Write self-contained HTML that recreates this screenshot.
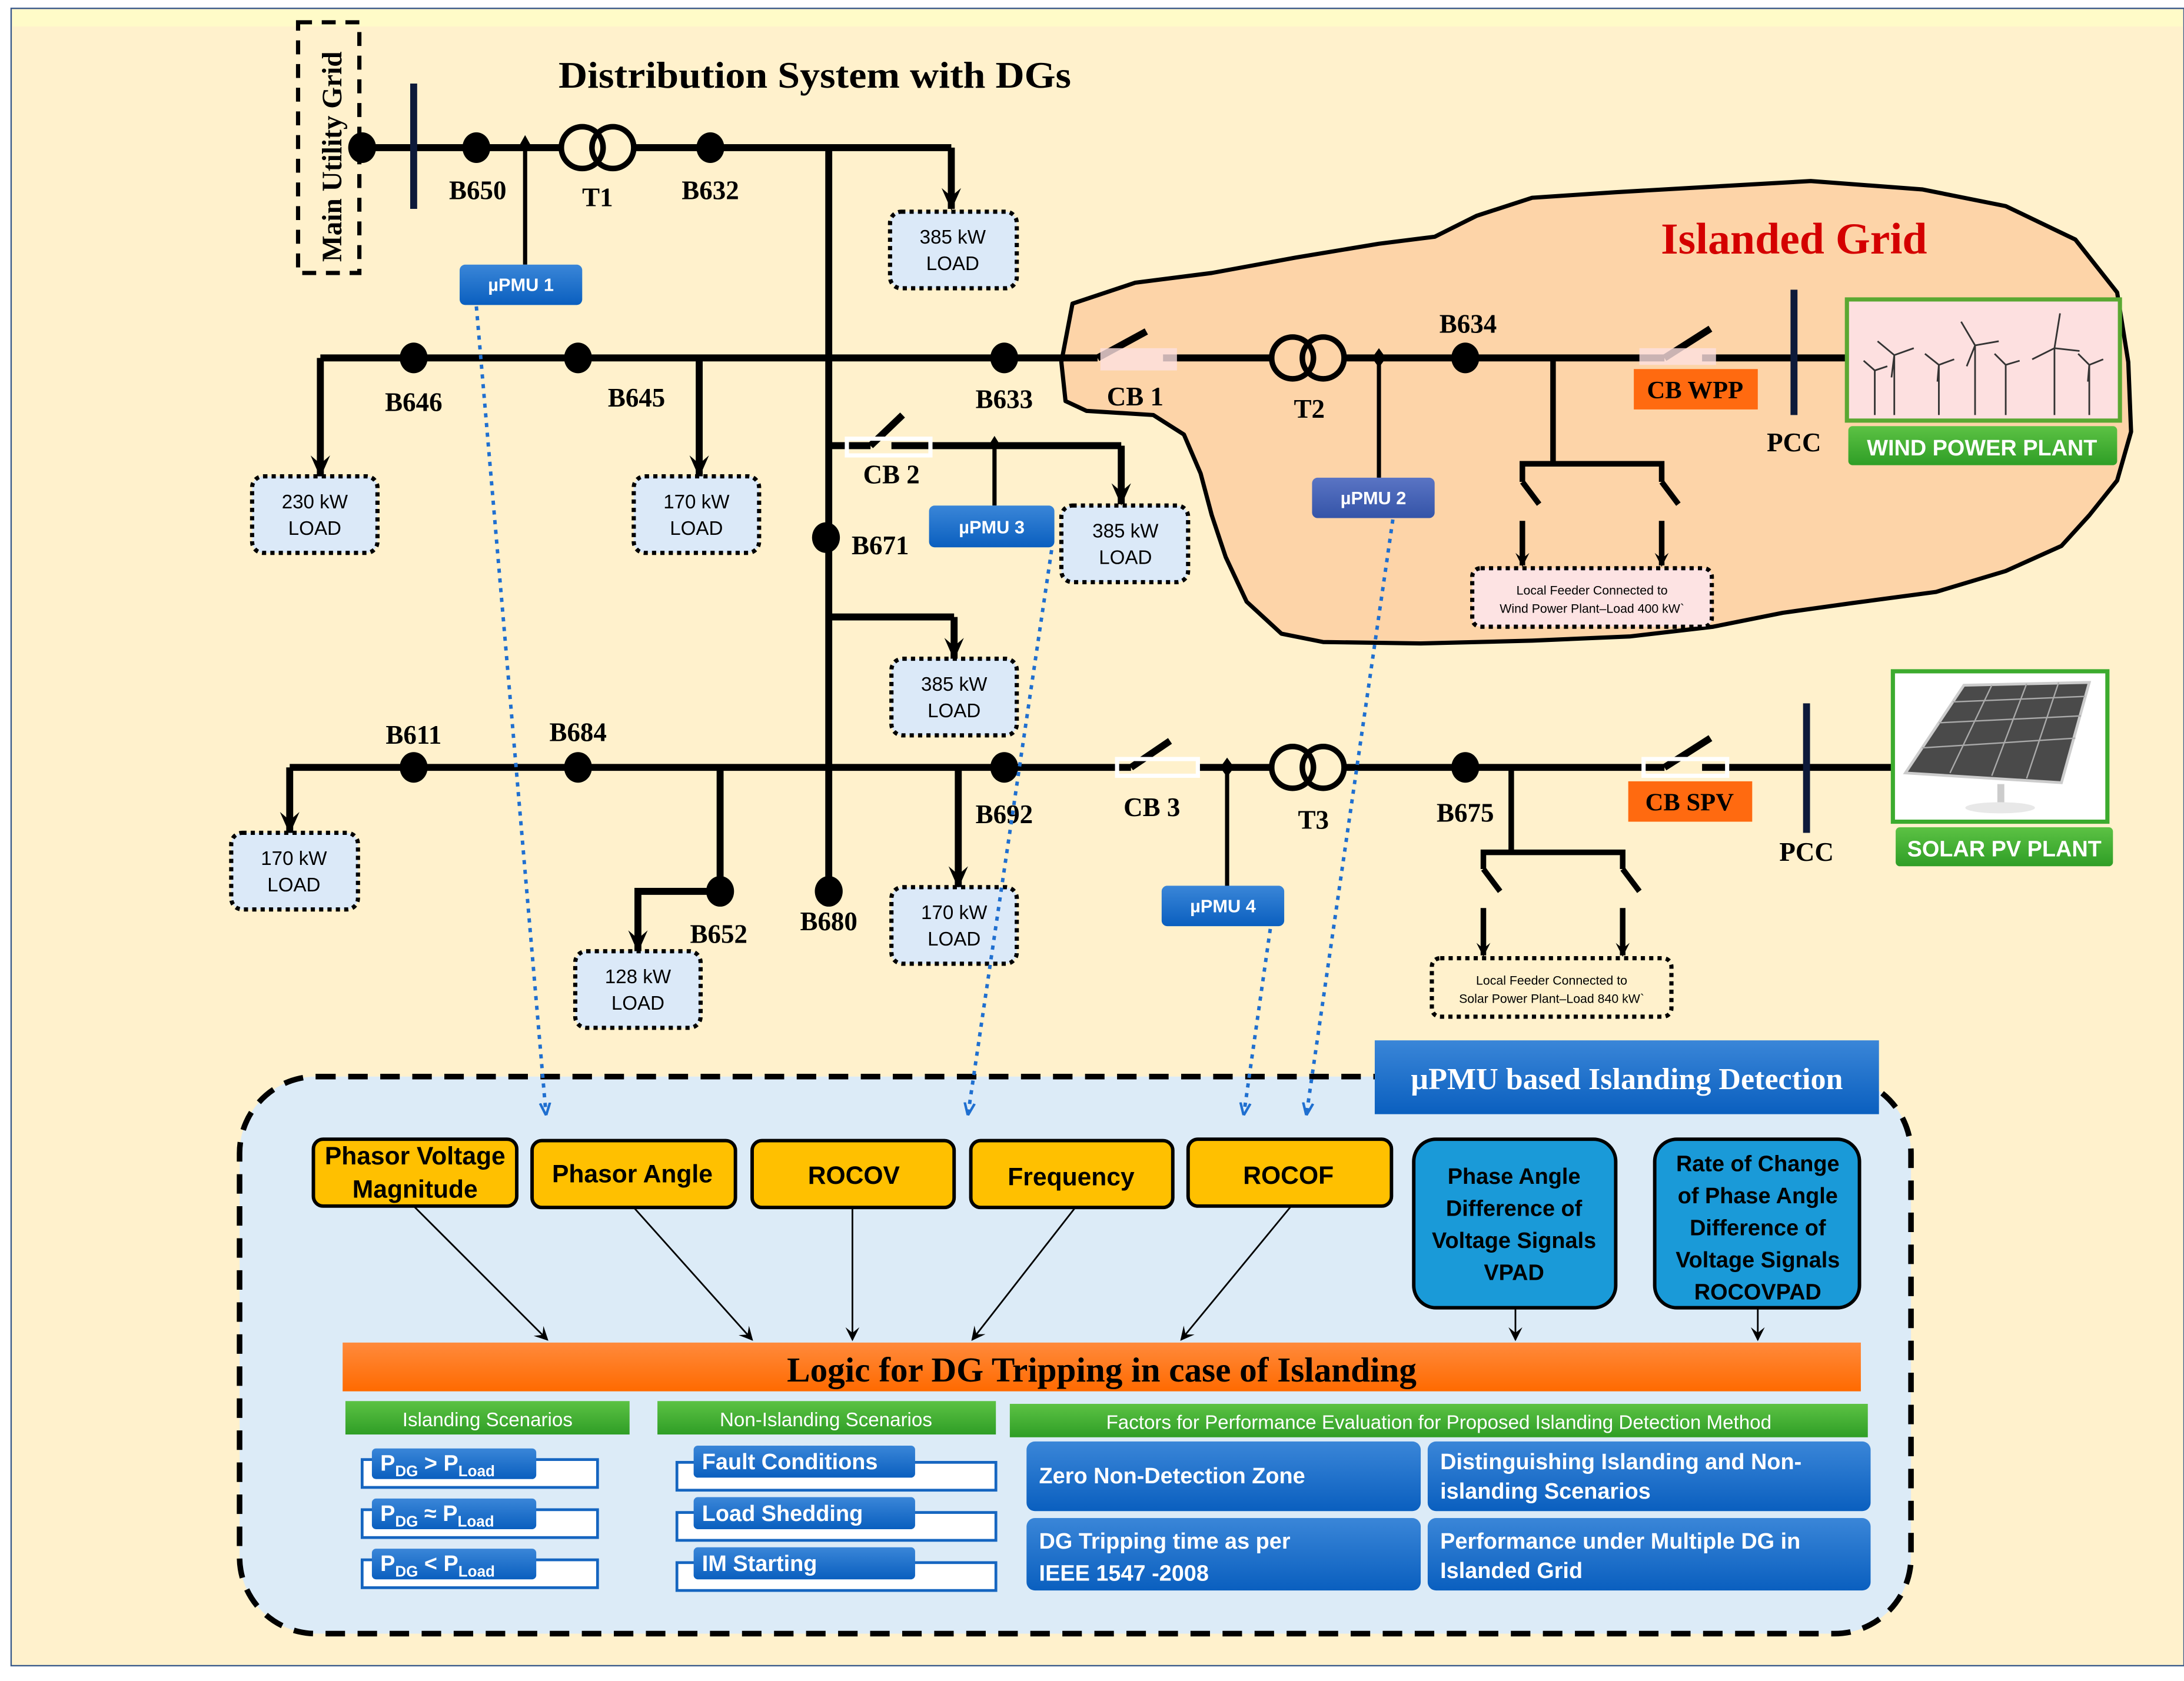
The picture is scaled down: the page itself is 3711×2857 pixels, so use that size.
<!DOCTYPE html>
<html><head><meta charset="utf-8"><style>
html,body{margin:0;padding:0;background:#fff}
svg{display:block}
text{font-family:"Liberation Sans",sans-serif}
.s,.s text{font-family:"Liberation Serif",serif;font-weight:bold}
</style></head><body>
<svg width="3711" height="2857" viewBox="0 0 1568 1207" preserveAspectRatio="none" xmlns="http://www.w3.org/2000/svg">
<defs>
<marker id="ab" viewBox="0 0 10 10" refX="9" refY="5" markerWidth="10" markerHeight="10" orient="auto" markerUnits="userSpaceOnUse"><path d="M0,0 L10,5 L0,10 L4,5 Z" fill="#000"/></marker>
<marker id="big" viewBox="0 0 16 14" refX="15" refY="7" markerWidth="16" markerHeight="14" orient="auto" markerUnits="userSpaceOnUse"><path d="M0,0 L16,7 L0,14 L6,7 Z" fill="#000"/></marker>
<marker id="bl" viewBox="0 0 10 10" refX="9" refY="5" markerWidth="9" markerHeight="9" orient="auto" markerUnits="userSpaceOnUse"><path d="M0,1 L10,5 L0,9" fill="none" stroke="#1f6fd0" stroke-width="2"/></marker>
<linearGradient id="gb" x1="0" y1="0" x2="0" y2="1"><stop offset="0" stop-color="#3a86d8"/><stop offset="1" stop-color="#0a5fbf"/></linearGradient>
<linearGradient id="gp" x1="0" y1="0" x2="0" y2="1"><stop offset="0" stop-color="#5a74c4"/><stop offset="1" stop-color="#3454a8"/></linearGradient>
<linearGradient id="go" x1="0" y1="0" x2="0" y2="1"><stop offset="0" stop-color="#ff8a3c"/><stop offset="1" stop-color="#ff6a00"/></linearGradient>
<linearGradient id="gg" x1="0" y1="0" x2="0" y2="1"><stop offset="0" stop-color="#5cc244"/><stop offset="1" stop-color="#2f9e26"/></linearGradient>
</defs>
<rect x="8" y="6" width="1560" height="1190" fill="#fff1cc" stroke="#3a5a8a" stroke-width="1"/>
<rect x="9" y="7" width="1558" height="12" fill="#fffbc8"/>

<!-- island -->
<path d="M770,218 L815,203 L870,196 L930,185 L990,175 L1030,170 L1060,155 L1100,142 L1160,138 L1230,134 L1300,130 L1380,136 L1440,148 L1490,172 L1520,210 L1528,260 L1530,310 L1520,345 L1500,370 L1480,392 L1440,410 L1390,425 L1330,433 L1280,440 L1230,450 L1170,457 L1100,460 L1020,462 L950,461 L920,455 L895,432 L880,400 L870,370 L862,340 L850,312 L828,298 L780,295 L765,288 L762,260 Z" fill="#fdd4a8" stroke="#000" stroke-width="3" stroke-linejoin="round"/>
<text x="1288" y="182" text-anchor="middle" class="s" font-size="32" fill="#d40000">Islanded Grid</text>

<text x="585" y="63" text-anchor="middle" class="s" font-size="27" textLength="368" lengthAdjust="spacingAndGlyphs">Distribution System with DGs</text>

<!-- main utility grid -->
<rect x="214" y="16" width="44" height="180" fill="none" stroke="#000" stroke-width="3" stroke-dasharray="10,7"/>
<text transform="translate(245,188) rotate(-90)" class="s" font-size="20">Main Utility Grid</text>

<g stroke="#000" stroke-width="5" fill="none">
<line x1="260" y1="106" x2="402" y2="106"/>
<line x1="456" y1="106" x2="683" y2="106"/>
<line x1="683" y1="106" x2="683" y2="150" marker-end="url(#big)"/>
<line x1="377" y1="106" x2="377" y2="190" stroke-width="3"/>
<line x1="595" y1="106" x2="595" y2="640"/>
<line x1="230" y1="257" x2="788" y2="257"/>
<line x1="230" y1="257" x2="230" y2="342" marker-end="url(#big)"/>
<line x1="502" y1="257" x2="502" y2="342" marker-end="url(#big)"/>
<line x1="835" y1="257" x2="912" y2="257"/>
<line x1="966" y1="257" x2="1195" y2="257"/>
<line x1="1222" y1="257" x2="1325" y2="257"/>
<line x1="990" y1="257" x2="990" y2="343" stroke-width="3"/>
<line x1="1115" y1="257" x2="1115" y2="333" stroke-width="4"/>
<path d="M1093,346 L1093,333 L1193,333 L1193,346" stroke-width="4"/>
<line x1="1093" y1="374" x2="1093" y2="406" stroke-width="4" marker-end="url(#ab)"/>
<line x1="1193" y1="374" x2="1193" y2="406" stroke-width="4" marker-end="url(#ab)"/>
<line x1="1093" y1="346" x2="1105" y2="362" stroke-width="4"/>
<line x1="1193" y1="346" x2="1205" y2="362" stroke-width="4"/>
<line x1="595" y1="320" x2="625" y2="320"/>
<line x1="640" y1="320" x2="805" y2="320"/>
<line x1="805" y1="320" x2="805" y2="362" marker-end="url(#big)"/>
<line x1="714" y1="320" x2="714" y2="363" stroke-width="3"/>
<line x1="595" y1="443" x2="685" y2="443"/>
<line x1="685" y1="443" x2="685" y2="473" marker-end="url(#big)"/>
<line x1="208" y1="551" x2="812" y2="551"/>
<line x1="208" y1="551" x2="208" y2="598" marker-end="url(#big)"/>
<line x1="517" y1="551" x2="517" y2="640"/>
<path d="M517,640 L458,640 L458,683" marker-end="url(#big)"/>
<line x1="688" y1="551" x2="688" y2="637" marker-end="url(#big)"/>
<line x1="860" y1="551" x2="912" y2="551"/>
<line x1="966" y1="551" x2="1195" y2="551"/>
<line x1="1222" y1="551" x2="1365" y2="551"/>
<line x1="881" y1="551" x2="881" y2="637" stroke-width="3"/>
<line x1="1085" y1="551" x2="1085" y2="612" stroke-width="4"/>
<path d="M1065,624 L1065,612 L1165,612 L1165,624" stroke-width="4"/>
<line x1="1065" y1="652" x2="1065" y2="686" stroke-width="4" marker-end="url(#ab)"/>
<line x1="1165" y1="652" x2="1165" y2="686" stroke-width="4" marker-end="url(#ab)"/>
<line x1="1065" y1="624" x2="1077" y2="640" stroke-width="4"/>
<line x1="1165" y1="624" x2="1177" y2="640" stroke-width="4"/>
<line x1="788" y1="257" x2="823" y2="238"/>
<line x1="1195" y1="257" x2="1228" y2="236"/>
<line x1="625" y1="320" x2="648" y2="298"/>
<line x1="812" y1="551" x2="840" y2="532"/>
<line x1="1195" y1="551" x2="1228" y2="530"/>
</g>
<rect x="790" y="250" width="55" height="16" fill="#fde0e0" opacity="0.8"/>
<rect x="1177" y="250" width="55" height="12" fill="#fde0e0" opacity="0.8"/>
<rect x="608" y="315" width="60" height="12" fill="none" stroke="#fff" stroke-width="3"/>
<rect x="802" y="545" width="58" height="12" fill="none" stroke="#fff" stroke-width="3"/>
<rect x="1180" y="545" width="60" height="12" fill="none" stroke="#fff" stroke-width="3"/>
<line x1="297" y1="60" x2="297" y2="150" stroke="#0d1a3a" stroke-width="5"/>
<line x1="1288" y1="208" x2="1288" y2="298" stroke="#0d1a3a" stroke-width="5"/>
<line x1="1297" y1="505" x2="1297" y2="598" stroke="#0d1a3a" stroke-width="5"/>
<g fill="none" stroke="#000" stroke-width="4">
<circle cx="418" cy="106" r="15"/><circle cx="440" cy="106" r="15"/>
<circle cx="928" cy="257" r="15"/><circle cx="950" cy="257" r="15"/>
<circle cx="928" cy="551" r="15"/><circle cx="950" cy="551" r="15"/>
</g>
<g fill="#000">
<ellipse cx="260" cy="106" rx="10" ry="11"/>
<ellipse cx="342" cy="106" rx="10" ry="11"/>
<ellipse cx="510" cy="106" rx="10" ry="11"/>
<ellipse cx="297" cy="257" rx="10" ry="11"/>
<ellipse cx="415" cy="257" rx="10" ry="11"/>
<ellipse cx="721" cy="257" rx="10" ry="11"/>
<ellipse cx="1052" cy="257" rx="10" ry="11"/>
<ellipse cx="593" cy="386" rx="10" ry="11"/>
<ellipse cx="297" cy="551" rx="10" ry="11"/>
<ellipse cx="415" cy="551" rx="10" ry="11"/>
<ellipse cx="721" cy="551" rx="10" ry="11"/>
<ellipse cx="1052" cy="551" rx="10" ry="11"/>
<ellipse cx="517" cy="640" rx="10" ry="11"/>
<ellipse cx="595" cy="640" rx="10" ry="11"/>
<path d="M377,97 l5,9 l-10,0 Z M714,313 l5,8 l-10,0 Z M990,250 l5,7 l-5,7 l-5,-7Z M881,544 l5,7 l-5,7 l-5,-7Z"/>
</g>
<g class="s" font-size="19" text-anchor="middle">
<text x="343" y="143">B650</text><text x="429" y="148">T1</text><text x="510" y="143">B632</text>
<text x="297" y="295">B646</text><text x="457" y="292">B645</text><text x="721" y="293">B633</text>
<text x="815" y="291">CB 1</text><text x="940" y="300">T2</text><text x="1054" y="239">B634</text>
<text x="1288" y="324">PCC</text><text x="640" y="347">CB 2</text><text x="632" y="398">B671</text>
<text x="297" y="534">B611</text><text x="415" y="532">B684</text><text x="721" y="591">B692</text>
<text x="827" y="586">CB 3</text><text x="943" y="595">T3</text><text x="1052" y="590">B675</text>
<text x="1297" y="618">PCC</text><text x="516" y="677">B652</text><text x="595" y="668">B680</text>
</g>
<g fill="#dbe9f8" stroke="#000" stroke-width="3" stroke-dasharray="3,3">
<rect x="639" y="152" width="91" height="55" rx="8"/>
<rect x="181" y="342" width="90" height="55" rx="8"/>
<rect x="455" y="342" width="90" height="55" rx="8"/>
<rect x="762" y="363" width="91" height="55" rx="8"/>
<rect x="640" y="473" width="90" height="55" rx="8"/>
<rect x="166" y="598" width="91" height="55" rx="8"/>
<rect x="640" y="637" width="90" height="55" rx="8"/>
<rect x="413" y="683" width="90" height="55" rx="8"/>
<rect x="1057" y="408" width="172" height="42" rx="6" fill="#fde3e3"/>
<rect x="1028" y="688" width="172" height="42" rx="6" fill="#fff1cc"/>
</g>
<g font-size="14" text-anchor="middle">
<text x="684" y="175">385 kW</text><text x="684" y="194">LOAD</text>
<text x="226" y="365">230 kW</text><text x="226" y="384">LOAD</text>
<text x="500" y="365">170 kW</text><text x="500" y="384">LOAD</text>
<text x="808" y="386">385 kW</text><text x="808" y="405">LOAD</text>
<text x="685" y="496">385 kW</text><text x="685" y="515">LOAD</text>
<text x="211" y="621">170 kW</text><text x="211" y="640">LOAD</text>
<text x="685" y="660">170 kW</text><text x="685" y="679">LOAD</text>
<text x="458" y="706">128 kW</text><text x="458" y="725">LOAD</text>
<text x="1143" y="427" font-size="9">Local Feeder Connected to</text>
<text x="1143" y="440" font-size="9">Wind Power Plant–Load 400 kW`</text>
<text x="1114" y="707" font-size="9">Local Feeder Connected to</text>
<text x="1114" y="720" font-size="9">Solar Power Plant–Load 840 kW`</text>
</g>
<rect x="330" y="190" width="88" height="29" rx="4" fill="url(#gb)"/>
<rect x="667" y="363" width="90" height="30" rx="4" fill="url(#gb)"/>
<rect x="942" y="343" width="88" height="29" rx="4" fill="url(#gp)"/>
<rect x="834" y="636" width="88" height="29" rx="4" fill="url(#gb)"/>
<g fill="#fff" font-size="13" font-weight="bold" text-anchor="middle">
<text x="374" y="209">µPMU 1</text><text x="712" y="383">µPMU 3</text><text x="986" y="362">µPMU 2</text><text x="878" y="655">µPMU 4</text>
</g>
<rect x="1173" y="265" width="89" height="29" fill="#ff6a10"/>
<text x="1217" y="286" text-anchor="middle" class="s" font-size="18">CB WPP</text>
<rect x="1169" y="561" width="89" height="29" fill="#ff6a10"/>
<text x="1213" y="582" text-anchor="middle" class="s" font-size="18">CB SPV</text>
<rect x="1326" y="215" width="196" height="87" fill="#fde0e0" stroke="#5aa832" stroke-width="3"/>
<g stroke="#333" stroke-width="1.2" fill="none">
<path d="M1360,298 V255 M1360,255 l-12,-10 M1360,255 l14,-5 M1360,255 l-2,16"/>
<path d="M1392,298 V262 M1392,262 l-10,-8 M1392,262 l11,-4 M1392,262 l-1,12"/>
<path d="M1418,298 V248 M1418,248 l-10,-17 M1418,248 l17,-3 M1418,248 l-6,15"/>
<path d="M1440,298 V262 M1440,262 l-8,-8 M1440,262 l10,-3"/>
<path d="M1475,298 V250 M1475,250 l4,-25 M1475,250 l18,2 M1475,250 l-16,8"/>
<path d="M1500,298 V262 M1500,262 l-8,-8 M1500,262 l10,-4 M1500,262 l-1,12"/>
<path d="M1346,298 V266 M1346,266 l-8,-7 M1346,266 l9,-3"/>
</g>
<rect x="1327" y="306" width="193" height="28" rx="3" fill="url(#gg)"/>
<text x="1423" y="327" text-anchor="middle" fill="#fff" font-size="16" font-weight="bold">WIND POWER PLANT</text>
<rect x="1359" y="482" width="154" height="108" fill="#fff" stroke="#3cab2e" stroke-width="3"/>
<path d="M1368,555 L1410,492 L1500,490 L1480,562 Z" fill="#4a4a4a" stroke="#ccc" stroke-width="2"/>
<g stroke="#aaa" stroke-width="1"><path d="M1380,537 L1490,530 M1392,519 L1494,514 M1402,504 L1497,500 M1400,555 L1430,492 M1430,557 L1455,491 M1455,559 L1478,490"/></g>
<rect x="1434" y="563" width="5" height="14" fill="#ccc"/>
<ellipse cx="1436" cy="580" rx="25" ry="4" fill="#e8e8e8"/>
<rect x="1361" y="594" width="156" height="28" rx="3" fill="url(#gg)"/>
<text x="1439" y="615" text-anchor="middle" fill="#fff" font-size="16" font-weight="bold">SOLAR PV PLANT</text>

<rect x="172" y="773" width="1200" height="400" rx="55" fill="#dcebf7" stroke="#000" stroke-width="4" stroke-dasharray="14,9"/>
<rect x="987" y="747" width="362" height="53" fill="url(#gb)"/>
<text x="1168" y="782" text-anchor="middle" class="s" font-size="22" fill="#fff">µPMU based Islanding Detection</text>
<g stroke="#1f6fd0" stroke-width="2.5" stroke-dasharray="3,4" fill="none">
<line x1="342" y1="220" x2="392" y2="800" marker-end="url(#bl)"/>
<line x1="755" y1="395" x2="695" y2="800" marker-end="url(#bl)"/>
<line x1="912" y1="667" x2="893" y2="800" marker-end="url(#bl)"/>
<line x1="1000" y1="373" x2="938" y2="800" marker-end="url(#bl)"/>
</g>
<g fill="#ffc000" stroke="#000" stroke-width="2.5">
<rect x="225" y="818" width="146" height="48" rx="7"/>
<rect x="382" y="819" width="146" height="48" rx="7"/>
<rect x="540" y="819" width="145" height="48" rx="7"/>
<rect x="697" y="819" width="145" height="48" rx="7"/>
<rect x="853" y="818" width="146" height="48" rx="7"/>
</g>
<g fill="#1a9ad8" stroke="#000" stroke-width="2.5">
<rect x="1015" y="818" width="145" height="121" rx="16"/>
<rect x="1188" y="818" width="147" height="121" rx="16"/>
</g>
<g font-size="18" font-weight="bold" text-anchor="middle">
<text x="298" y="836">Phasor Voltage</text><text x="298" y="860">Magnitude</text>
<text x="454" y="849">Phasor Angle</text>
<text x="613" y="850">ROCOV</text>
<text x="769" y="851">Frequency</text>
<text x="925" y="850">ROCOF</text>
<g font-size="16"><text x="1087" y="850">Phase Angle</text><text x="1087" y="873">Difference of</text><text x="1087" y="896">Voltage Signals</text><text x="1087" y="919">VPAD</text>
<text x="1262" y="841">Rate of Change</text><text x="1262" y="864">of Phase Angle</text><text x="1262" y="887">Difference of</text><text x="1262" y="910">Voltage Signals</text><text x="1262" y="933">ROCOVPAD</text></g>
</g>
<g stroke="#000" stroke-width="1.2">
<line x1="297" y1="866" x2="393" y2="962" marker-end="url(#ab)"/>
<line x1="455" y1="867" x2="540" y2="962" marker-end="url(#ab)"/>
<line x1="612" y1="867" x2="612" y2="962" marker-end="url(#ab)"/>
<line x1="772" y1="867" x2="698" y2="962" marker-end="url(#ab)"/>
<line x1="927" y1="866" x2="848" y2="962" marker-end="url(#ab)"/>
<line x1="1088" y1="939" x2="1088" y2="962" marker-end="url(#ab)"/>
<line x1="1262" y1="939" x2="1262" y2="962" marker-end="url(#ab)"/>
</g>
<rect x="246" y="964" width="1090" height="35" fill="url(#go)"/>
<text x="791" y="992" text-anchor="middle" class="s" font-size="25">Logic for DG Tripping in case of Islanding</text>
<rect x="248" y="1006" width="204" height="24" fill="url(#gg)"/>
<rect x="472" y="1006" width="243" height="24" fill="url(#gg)"/>
<rect x="725" y="1008" width="616" height="24" fill="url(#gg)"/>
<g fill="#fff" font-size="14" text-anchor="middle">
<text x="350" y="1024">Islanding Scenarios</text>
<text x="593" y="1024">Non-Islanding Scenarios</text>
<text x="1033" y="1026">Factors for Performance Evaluation for Proposed Islanding Detection Method</text>
</g>
<g fill="#fff" stroke="#1565c0" stroke-width="2">
<rect x="260" y="1048" width="169" height="20"/><rect x="260" y="1084" width="169" height="20"/><rect x="260" y="1120" width="169" height="20"/>
<rect x="486" y="1050" width="229" height="20"/><rect x="486" y="1086" width="229" height="20"/><rect x="486" y="1122" width="229" height="20"/>
</g>
<g fill="url(#gb)">
<rect x="267" y="1040" width="118" height="22" rx="3"/><rect x="267" y="1076" width="118" height="22" rx="3"/><rect x="267" y="1112" width="118" height="22" rx="3"/>
<rect x="498" y="1038" width="159" height="23" rx="3"/><rect x="498" y="1075" width="159" height="23" rx="3"/><rect x="498" y="1111" width="159" height="23" rx="3"/>
<rect x="737" y="1035" width="283" height="50" rx="6"/><rect x="1025" y="1035" width="318" height="50" rx="6"/>
<rect x="737" y="1090" width="283" height="52" rx="6"/><rect x="1025" y="1090" width="318" height="52" rx="6"/>
</g>
<g fill="#fff" font-size="16" font-weight="bold">
<text x="273" y="1056">P<tspan font-size="11" dy="4">DG</tspan><tspan dy="-4"> &gt; P</tspan><tspan font-size="11" dy="4">Load</tspan></text>
<text x="273" y="1092">P<tspan font-size="11" dy="4">DG</tspan><tspan dy="-4"> ≈ P</tspan><tspan font-size="11" dy="4">Load</tspan></text>
<text x="273" y="1128">P<tspan font-size="11" dy="4">DG</tspan><tspan dy="-4"> &lt; P</tspan><tspan font-size="11" dy="4">Load</tspan></text>
<text x="504" y="1055">Fault Conditions</text>
<text x="504" y="1092">Load Shedding</text>
<text x="504" y="1128">IM Starting</text>
<text x="746" y="1065">Zero Non-Detection Zone</text>
<text x="1034" y="1055">Distinguishing  Islanding and Non-</text>
<text x="1034" y="1076">islanding Scenarios</text>
<text x="746" y="1112">DG Tripping time as per</text>
<text x="746" y="1135">IEEE 1547 -2008</text>
<text x="1034" y="1112">Performance under Multiple DG in</text>
<text x="1034" y="1133">Islanded Grid</text>
</g>
</svg>
</body></html>
